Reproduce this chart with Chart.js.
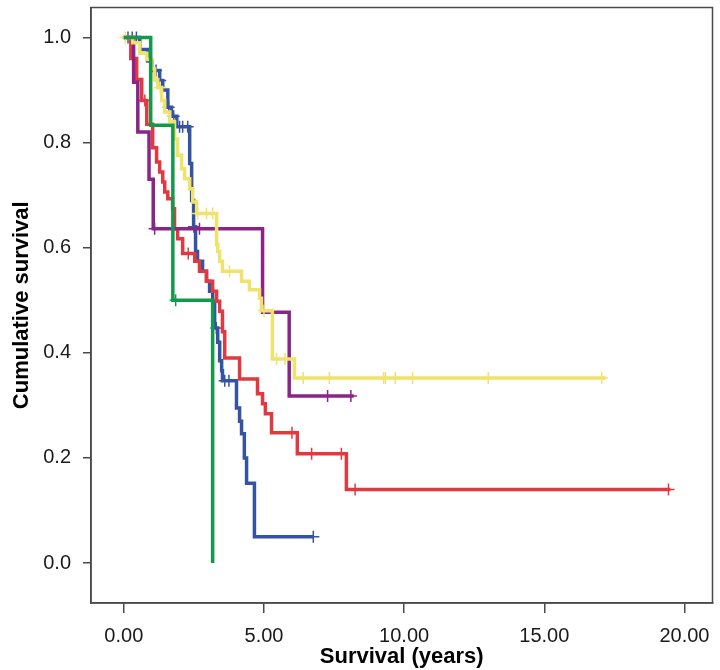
<!DOCTYPE html>
<html>
<head>
<meta charset="utf-8">
<script src="https://cdn.jsdelivr.net/npm/chart.js@4.4.1/dist/chart.umd.min.js"></script>
<style>
    html, body { margin: 0; padding: 0; background: #ffffff; }
    #caixa { width: 720px; height: 670px; }
</style>
</head>
<body>
<div id="caixa"><canvas id="graficoSobrevida" width="720" height="670"></canvas></div>
<script>
// dados (tempo em anos, sobrevida acumulada)
var temposAzul = [0, 0.57, 0.85, 1.0, 1.28, 1.39, 1.57, 1.7, 1.89, 2.35, 2.42, 2.49, 2.56, 2.63, 2.81, 2.95, 3.06, 3.17, 3.24, 3.35, 3.42, 3.49, 3.52, 4.02, 4.13, 4.2, 4.3, 4.38, 4.66, 6.76];
var sobrevidaAzul = [1.0, 0.977, 0.955, 0.937, 0.918, 0.9, 0.867, 0.85, 0.83, 0.76, 0.69, 0.64, 0.593, 0.574, 0.555, 0.536, 0.517, 0.498, 0.447, 0.42, 0.385, 0.366, 0.347, 0.295, 0.27, 0.246, 0.2, 0.152, 0.05, 0.05];
var censurasAzul = [0.15, 0.3, 0.45, 1.15, 1.3, 1.6, 1.78, 1.99, 2.1, 2.28, 2.5, 3.3, 3.6, 3.75, 6.76];

var temposVermelho = [0, 0.25, 0.46, 0.64, 0.82, 1.03, 1.17, 1.28, 1.39, 1.46, 1.57, 1.74, 1.81, 1.92, 2.1, 2.53, 2.7, 2.95, 3.17, 3.31, 3.42, 3.52, 3.6, 4.13, 4.77, 4.95, 5.05, 5.27, 6.19, 7.94, 19.5];
var sobrevidaVermelho = [1.0, 0.96, 0.92, 0.88, 0.835, 0.79, 0.763, 0.744, 0.725, 0.706, 0.693, 0.674, 0.636, 0.617, 0.589, 0.574, 0.555, 0.536, 0.517, 0.498, 0.479, 0.44, 0.39, 0.35, 0.322, 0.303, 0.284, 0.248, 0.208, 0.14, 0.14];
var censurasVermelho = [0.75, 2.3, 6.0, 6.7, 7.76, 8.25, 19.43];

var temposRoxo = [0, 0.35, 0.5, 0.9, 1.05, 4.95, 5.9, 8.2];
var sobrevidaRoxo = [1.0, 0.915, 0.82, 0.73, 0.636, 0.477, 0.318, 0.318];
var censurasRoxo = [1.1, 2.7, 7.27, 8.1];

var temposAmarelo = [0, 0.32, 0.57, 0.82, 1.0, 1.1, 1.21, 1.35, 1.46, 1.64, 1.81, 1.92, 2.06, 2.17, 2.35, 2.46, 2.6, 3.31, 3.35, 3.42, 3.52, 4.2, 4.48, 4.84, 4.91, 5.3, 6.09, 17.2];
var sobrevidaAmarelo = [1.0, 0.99, 0.97, 0.958, 0.94, 0.92, 0.905, 0.88, 0.858, 0.84, 0.807, 0.776, 0.75, 0.731, 0.712, 0.687, 0.665, 0.606, 0.593, 0.574, 0.555, 0.536, 0.52, 0.504, 0.48, 0.388, 0.352, 0.352];
var censurasAmarelo = [0.05, 1.3, 2.63, 2.95, 3.17, 3.77, 5.0, 5.45, 5.75, 6.4, 7.33, 9.27, 9.33, 9.68, 10.3, 13.0, 17.05];

var temposVerde = [0, 0.96, 1.75, 3.17];
var sobrevidaVerde = [1.0, 0.833, 0.5, 0.0];
var censurasVerde = [1.85];

var ticksX = [0, 5, 10, 15, 20];
var ticksY = [0, 0.2, 0.4, 0.6, 0.8, 1.0];

var corAzul = '#3553a3';
var corVermelho = '#e03a40';
var corRoxo = '#8a2487';
var corAmarelo = '#efe36c';
var corVerde = '#119a4a';
var corEixo = '#4a4a4a';

// valor da curva num instante (para posicionar as marcas de censura)
function sobrevidaEm(tempos, sobrevida, t) {
    var valor = sobrevida[0];
    for (var i = 0; i < tempos.length; i++) {
        if (tempos[i] <= t) {
            valor = sobrevida[i];
        }
    }
    return valor;
}

function montarPontos(tempos, sobrevida) {
    var pontos = [];
    for (var i = 0; i < tempos.length; i++) {
        pontos.push({ x: tempos[i], y: sobrevida[i] });
    }
    return pontos;
}

function montarCensuras(censuras, tempos, sobrevida) {
    var pontos = [];
    for (var i = 0; i < censuras.length; i++) {
        pontos.push({ x: censuras[i], y: sobrevidaEm(tempos, sobrevida, censuras[i]) });
    }
    return pontos;
}

function curva(nome, tempos, sobrevida, cor) {
    return {
        type: 'line',
        label: nome,
        data: montarPontos(tempos, sobrevida),
        borderColor: cor,
        borderWidth: 3.5,
        stepped: 'before',
        pointRadius: 0,
        fill: false
    };
}

function censuras(nome, lista, tempos, sobrevida, cor) {
    return {
        type: 'scatter',
        label: nome,
        data: montarCensuras(lista, tempos, sobrevida),
        borderColor: cor,
        backgroundColor: cor,
        pointStyle: 'cross',
        pointRadius: 6,
        borderWidth: 1.5,
        showLine: false
    };
}

// moldura completa em volta da area do grafico
var moldura = {
    id: 'moldura',
    afterDraw: function (chart) {
        var a = chart.chartArea;
        var ctx = chart.ctx;
        ctx.save();
        ctx.strokeStyle = corEixo;
        ctx.lineWidth = 1.5;
        ctx.strokeRect(a.left, a.top, a.right - a.left, a.bottom - a.top);
        ctx.restore();
    }
};

// tira o espaco extra que o chart.js reserva para meia etiqueta
function semPadding(scale) {
    scale.paddingTop = 0;
    scale.paddingBottom = 0;
    scale.paddingLeft = 0;
    scale.paddingRight = 0;
}

var fonteTicks = { family: "'Liberation Sans', Arial, sans-serif", size: 20 };
var fonteTitulo = { family: "'Liberation Sans', Arial, sans-serif", size: 22, weight: 'bold' };

var ctx = document.getElementById('graficoSobrevida').getContext('2d');
new Chart(ctx, {
    data: {
        datasets: [
            curva('Verde', temposVerde, sobrevidaVerde, corVerde),
            censuras('Verde censura', censurasVerde, temposVerde, sobrevidaVerde, corVerde),
            curva('Amarelo', temposAmarelo, sobrevidaAmarelo, corAmarelo),
            censuras('Amarelo censura', censurasAmarelo, temposAmarelo, sobrevidaAmarelo, corAmarelo),
            curva('Roxo', temposRoxo, sobrevidaRoxo, corRoxo),
            censuras('Roxo censura', censurasRoxo, temposRoxo, sobrevidaRoxo, corRoxo),
            curva('Vermelho', temposVermelho, sobrevidaVermelho, corVermelho),
            censuras('Vermelho censura', censurasVermelho, temposVermelho, sobrevidaVermelho, corVermelho),
            curva('Azul', temposAzul, sobrevidaAzul, corAzul),
            censuras('Azul censura', censurasAzul, temposAzul, sobrevidaAzul, corAzul)
        ]
    },
    options: {
        responsive: false,
        animation: false,
        devicePixelRatio: 1,
        layout: { padding: { top: 5, right: 6, left: 0, bottom: 0 } },
        plugins: {
            legend: { display: false },
            tooltip: { enabled: false }
        },
        scales: {
            x: {
                type: 'linear',
                min: -1.17,
                max: 21.0,
                afterBuildTicks: function (scale) {
                    scale.ticks = ticksX.map(function (v) { return { value: v }; });
                },
                afterFit: function (scale) { scale.height = 67; semPadding(scale); },
                ticks: {
                    color: '#1a1a1a',
                    font: fonteTicks,
                    padding: 11,
                    maxRotation: 0,
                    callback: function (v) { return Number(v).toFixed(2); }
                },
                grid: {
                    drawOnChartArea: false,
                    drawTicks: true,
                    tickLength: 10,
                    color: corEixo,
                    lineWidth: 1.5
                },
                border: { display: true, color: corEixo, width: 1.5 },
                title: {
                    display: true,
                    text: 'Survival (years)',
                    color: '#000000',
                    font: fonteTitulo,
                    padding: { top: 0, bottom: 0 }
                }
            },
            y: {
                type: 'linear',
                min: -0.076,
                max: 1.057,
                afterBuildTicks: function (scale) {
                    scale.ticks = ticksY.map(function (v) { return { value: v }; });
                },
                afterFit: function (scale) { scale.width = 91; semPadding(scale); },
                ticks: {
                    color: '#1a1a1a',
                    font: fonteTicks,
                    padding: 12,
                    callback: function (v) { return Number(v).toFixed(1); }
                },
                grid: {
                    drawOnChartArea: false,
                    drawTicks: true,
                    tickLength: 8,
                    color: corEixo,
                    lineWidth: 1.5
                },
                border: { display: true, color: corEixo, width: 1.5 },
                title: {
                    display: true,
                    text: 'Cumulative survival',
                    color: '#000000',
                    font: fonteTitulo,
                    padding: { top: 9, bottom: 0 }
                }
            }
        }
    },
    plugins: [moldura]
});
</script>
</body>
</html>
